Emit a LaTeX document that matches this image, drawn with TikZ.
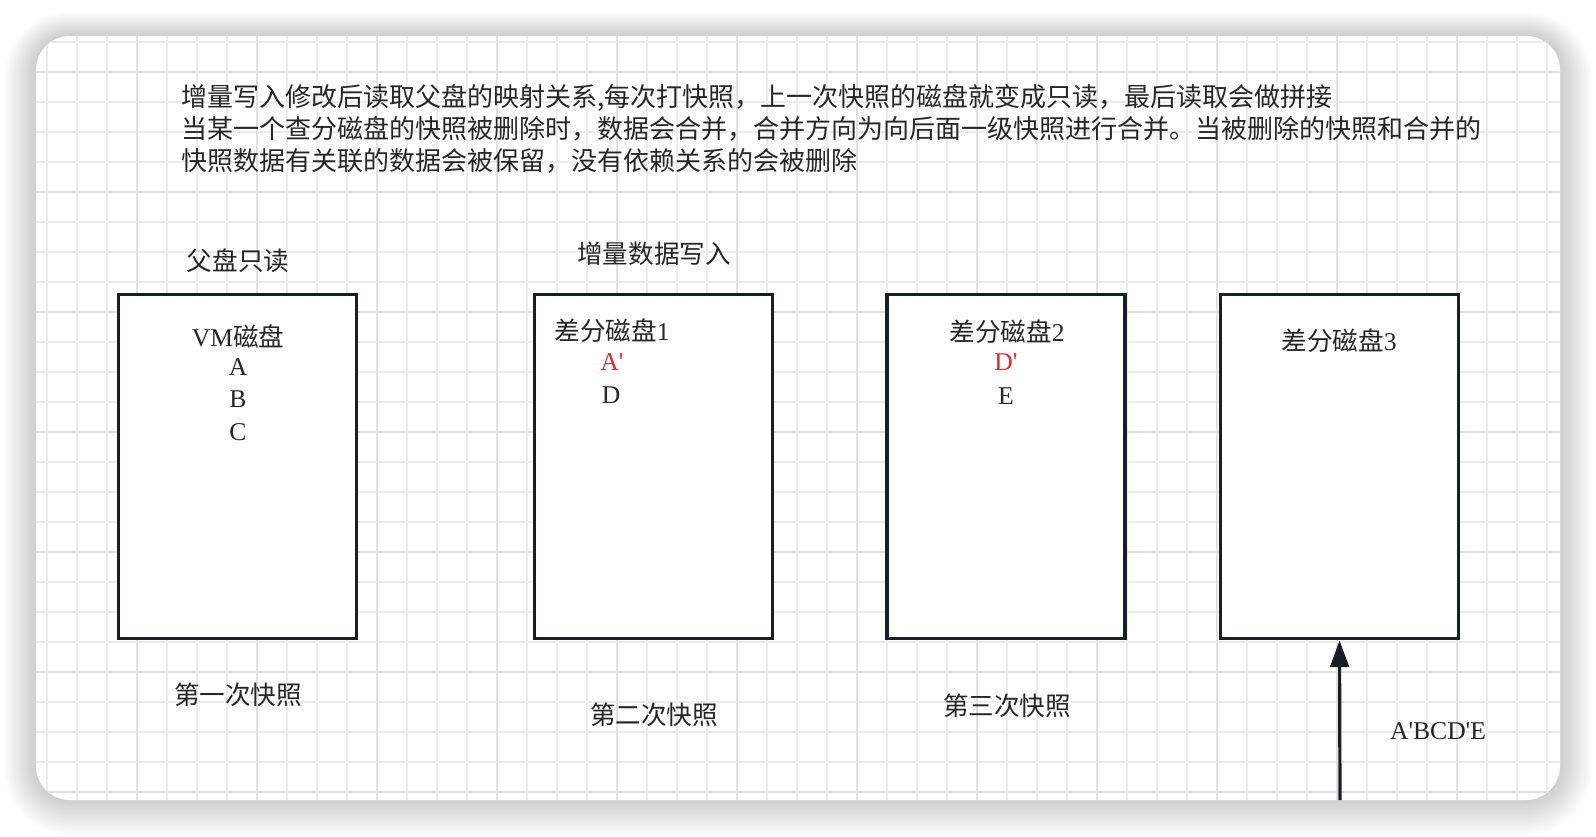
\documentclass[tikz,border=0pt]{standalone}
\usepackage{fontspec}
\setmainfont{Liberation Serif}
\newfontfamily\cjk{Noto Sans CJK SC}
\usetikzlibrary{arrows.meta,positioning}

\definecolor{gridminor}{RGB}{236,236,236}
\definecolor{gridmajor}{RGB}{225,225,225}
\definecolor{boxline}{RGB}{24,30,36}
\definecolor{inktext}{RGB}{38,38,38}
\definecolor{editred}{RGB}{228,38,46}

\tikzset{
  diskbox/.style={draw=boxline, line width=2.4pt, fill=white, minimum width=178.5pt, minimum height=258.5pt, inner sep=0pt},
  lbl/.style={text=inktext, font=\cjk\fontsize{19.2}{24}\selectfont, inner sep=0pt},
  letter/.style={text=inktext, font=\fontsize{19.2}{24}\selectfont, inner sep=0pt},
}

\begin{document}
\begin{tikzpicture}[x=0.75pt,y=-0.75pt]
    \useasboundingbox (0,0) rectangle (1596,836);
    % soft shadow under the card
    \foreach \s [evaluate=\s as \r using (34+2*\s)*0.75] in {1,...,16} {
      \fill[black, opacity=0.010, rounded corners=\r pt] (36-2*\s,36-1.5*\s) rectangle (1560+2*\s,800+2.2*\s);
    }
    \fill[white, rounded corners=25.5pt] (36,36) rectangle (1560,800);
    \begin{scope}
      \clip[rounded corners=25.5pt] (36,36) rectangle (1560,800);
      \foreach \x in {47,77,...,1547} \draw[gridminor, line width=1.1pt] (\x,36) -- (\x,800);
      \foreach \y in {42,72,...,792} \draw[gridminor, line width=1.1pt] (36,\y) -- (1560,\y);
      \foreach \x in {17,137,...,1457} \draw[gridmajor, line width=1.3pt] (\x,36) -- (\x,800);
      \foreach \y in {72,192,...,792} \draw[gridmajor, line width=1.3pt] (36,\y) -- (1560,\y);
    \end{scope}

    \node[lbl, font=\cjk\fontsize{19.5}{24}\selectfont, align=left, anchor=west] (note) at (181,129)
      {增量写入修改后读取父盘的映射关系,每次打快照，上一次快照的磁盘就变成只读，最后读取会做拼接\\
       当某一个查分磁盘的快照被删除时，数据会合并，合并方向为向后面一级快照进行合并。当被删除的快照和合并的\\
       快照数据有关联的数据会被保留，没有依赖关系的会被删除};

    % disks
    \node[diskbox] (d0) at (237.5,466.5) {};
    \node[diskbox] (d1) at (653.5,466.5) {};
    \node[diskbox] (d2) at (1006,466.5) {};
    \node[diskbox] (d3) at (1339.5,466.5) {};

    \node[lbl] (ro) at (238,261) {父盘只读};
    \node[lbl] (inc) at (654,254) {增量数据写入};

    \node[lbl] (vm) at (238,336) {{\rmfamily VM}磁盘};
    \node[letter] (a) at (238,367) {A};
    \node[letter] (b) at (238,399) {B};
    \node[letter] (c) at (238,432) {C};

    \node[lbl] (diff1) at (612,331) {差分磁盘{\rmfamily 1}};
    \node[letter, text=editred] (a1) at (612,362) {A\textquotesingle};
    \node[letter] (d) at (611,395) {D};

    \node[lbl] (diff2) at (1007,332) {差分磁盘{\rmfamily 2}};
    \node[letter, text=editred] (d1x) at (1006,362) {D\textquotesingle};
    \node[letter] (e) at (1006,396) {E};

    \node[lbl] (diff3) at (1339,341) {差分磁盘{\rmfamily 3}};

    \node[lbl] (snap1) at (238,695) {第一次快照};
    \node[lbl] (snap2) at (654,715) {第二次快照};
    \node[lbl] (snap3) at (1007,706) {第三次快照};

    % merged read
    \coordinate (feed) at (1340,800);
    \draw[boxline, line width=2.4pt, -{Triangle[length=20pt,width=14pt]}] (feed) -- (d3.south);
    \node[letter] (mix) at (1438,731) {A\textquotesingle BCD\textquotesingle E};
\end{tikzpicture}
\end{document}
